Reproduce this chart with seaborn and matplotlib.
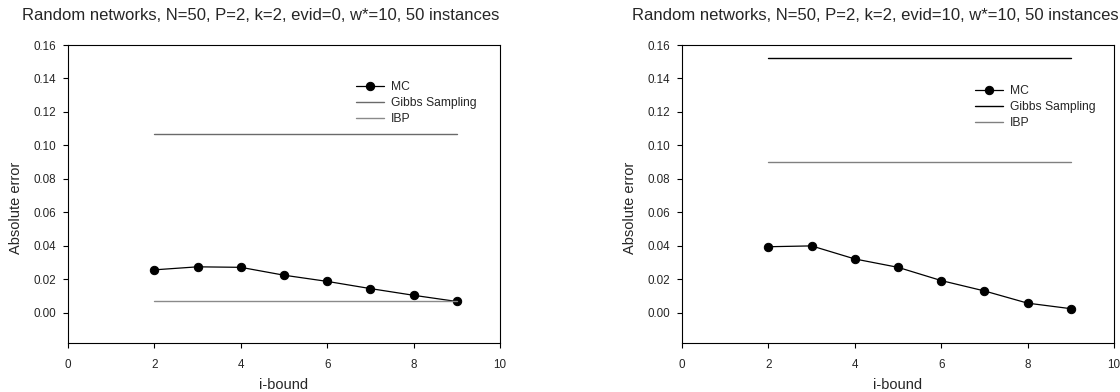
import matplotlib
matplotlib.use("Agg")
import matplotlib.pyplot as plt
import seaborn as sns
import pandas as pd

sns.set_theme(style="ticks")
plt.rcParams['font.family'] = ['Liberation Sans', 'DejaVu Sans']

i_bound = [2, 3, 4, 5, 6, 7, 8, 9]
span = [2, 9]

titles = ["Random networks, N=50, P=2, k=2, evid=0, w*=10, 50 instances",
          "Random networks, N=50, P=2, k=2, evid=10, w*=10, 50 instances"]
mc_left = [0.0257, 0.0275, 0.0272, 0.0225, 0.0188, 0.0145, 0.0105, 0.0068]
mc_right = [0.0395, 0.0400, 0.0322, 0.0272, 0.0193, 0.0131, 0.0058, 0.0025]
gibbs_left = 0.107
ibp_left = 0.007
gibbs_right = 0.152
ibp_right = 0.090

xticks = [0, 2, 4, 6, 8, 10]
yticks = [0.00, 0.02, 0.04, 0.06, 0.08, 0.10, 0.12, 0.14, 0.16]

fig = plt.figure(figsize=(11.2, 3.92), dpi=100)
ax1 = fig.add_axes([68/1120, 49/392, 432/1120, 298/392])
ax2 = fig.add_axes([682/1120, 49/392, 432/1120, 298/392])

configs = [
    (ax1, mc_left, gibbs_left, ibp_left, '#6a6a6a', '#8a8a8a', (350/1120, 1 - 75/392), 22/1120),
    (ax2, mc_right, gibbs_right, ibp_right, '#000000', '#808080', (969/1120, 1 - 79/392), 632/1120),
]

for (ax, mc, gv, iv, gcol, icol, legpos, tx), title in zip(configs, titles):
    df_mc = pd.DataFrame({"x": i_bound, "y": mc})
    sns.lineplot(data=df_mc, x="x", y="y", ax=ax, color='black', marker='o',
                 markersize=6, markeredgecolor='black', linewidth=0.9, label="MC")
    df_g = pd.DataFrame({"x": span, "y": [gv, gv]})
    sns.lineplot(data=df_g, x="x", y="y", ax=ax, color=gcol, linewidth=1.0, label="Gibbs Sampling")
    df_i = pd.DataFrame({"x": span, "y": [iv, iv]})
    sns.lineplot(data=df_i, x="x", y="y", ax=ax, color=icol, linewidth=1.0, label="IBP")
    ax.set_xlim(0, 10)
    ax.set_ylim(-0.018, 0.16)
    ax.set_xticks(xticks)
    ax.set_xticklabels([str(t) for t in xticks])
    ax.set_yticks(yticks)
    ax.set_yticklabels([f"{t:.2f}" for t in yticks])
    ax.tick_params(labelsize=8.4, length=3.6, width=0.8, direction='out', color='black', pad=5)
    ax.tick_params(axis='x', pad=8)
    ax.tick_params(top=False, right=False)
    for s in ax.spines.values():
        s.set_linewidth(0.8)
        s.set_color('black')
    ax.set_xlabel("i-bound", fontsize=10.5, labelpad=5)
    ax.set_ylabel("Absolute error", fontsize=10.5)
    ax.yaxis.set_label_coords(-0.104, 0.453)
    leg = ax.legend(loc='upper left', bbox_to_anchor=legpos, bbox_transform=fig.transFigure,
                    frameon=False, fontsize=8.75, handlelength=2.3, handletextpad=0.6,
                    labelspacing=0.33, borderpad=0)
    fig.text(tx, 1 - 15/392, title, fontsize=12, ha='left', va='center')

fig.savefig("out.png", dpi=100)
